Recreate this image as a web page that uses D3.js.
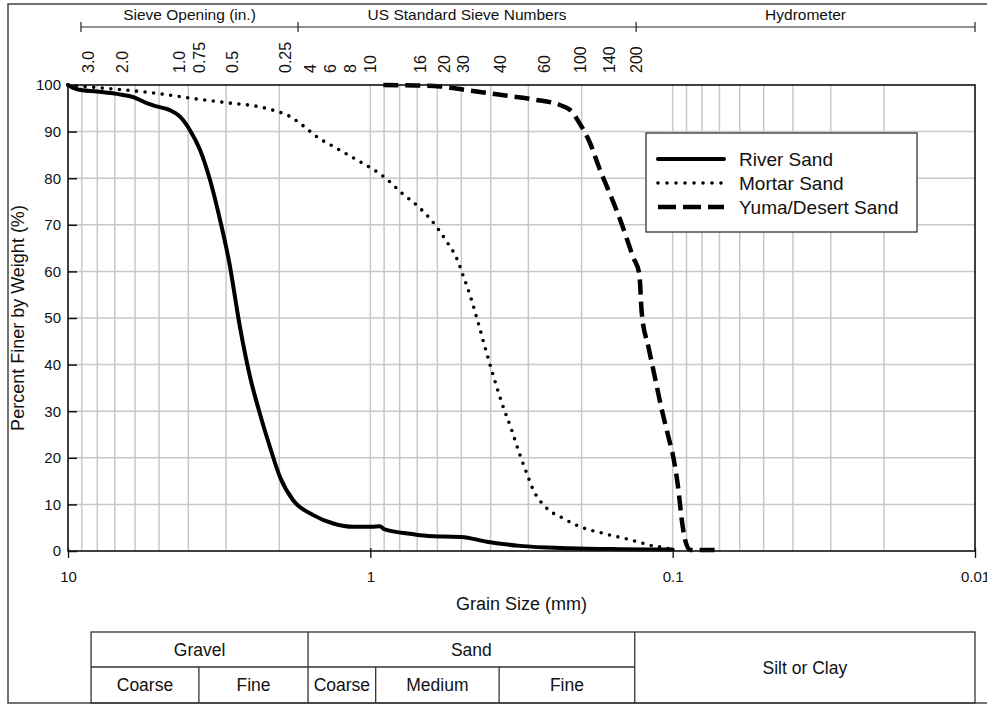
<!DOCTYPE html>
<html>
<head>
<meta charset="utf-8">
<script src="https://cdn.jsdelivr.net/npm/d3@7"></script>
<style>
  body { margin: 0; background: #fff; }
  svg text { font-family: "Liberation Sans", Arial, sans-serif; fill: #111; }
</style>
</head>
<body>
<div id="chart"></div>
<script>
// grain size (mm) / percent finer (%)
var riverSize = [10, 9.33, 8.03, 6.9, 6.08, 5.49, 5.09, 4.6, 4.26, 3.95, 3.66, 3.39, 3.14, 2.93, 2.70, 2.50, 2.32, 2.15, 1.99, 1.80, 1.545, 1.325, 1.138, 0.99, 0.93, 0.90, 0.72, 0.685, 0.57, 0.50, 0.412, 0.32, 0.218, 0.149, 0.10];
var riverPct  = [100, 99.1, 98.6, 98.1, 97.4, 96.1, 95.4, 94.6, 93.2, 90.3, 86.1, 79.6, 71.0, 62.0, 48.1, 37.4, 29.5, 22.4, 15.9, 10.9, 7.7, 5.9, 5.2, 5.2, 5.3, 4.7, 3.6, 3.4, 3.1, 3.0, 2.0, 1.1, 0.6, 0.4, 0.3];

var mortarSize = [10, 8.25, 6.4, 4.96, 3.85, 2.99, 2.32, 2.1, 1.84, 1.71, 1.6, 1.504, 1.325, 1.08, 0.953, 0.89, 0.787, 0.694, 0.611, 0.559, 0.518, 0.492, 0.466, 0.44, 0.412, 0.397, 0.367, 0.341, 0.32, 0.304, 0.289, 0.264, 0.23, 0.202, 0.17, 0.138, 0.116, 0.1046, 0.1];
var mortarPct  = [100, 99.5, 98.9, 98.1, 97.1, 96.2, 95.3, 94.6, 93.2, 91.8, 90.3, 88.9, 86.8, 83.5, 81.4, 80.0, 76.8, 73.9, 70.0, 66.4, 62.8, 58.9, 54.5, 49.0, 42.4, 38.8, 31.7, 26.0, 20.6, 16.7, 13.1, 9.5, 7.0, 5.2, 3.8, 2.4, 1.1, 0.6, 0.2];

var yumaSize = [0.906, 0.703, 0.588, 0.48, 0.372, 0.289, 0.236, 0.218, 0.2024, 0.1875, 0.174, 0.165, 0.149, 0.135, 0.129, 0.1265, 0.1203, 0.1158, 0.1086, 0.1033, 0.0994, 0.0957, 0.0933, 0.091, 0.0875, 0.0697];
var yumaPct  = [100, 99.9, 99.7, 98.9, 97.9, 96.9, 95.7, 94.6, 91.6, 87.5, 81.8, 78.2, 71.0, 63.0, 59.6, 51.0, 43.8, 38.8, 30.3, 24.5, 20.0, 13.1, 6.7, 2.4, 0.2, 0.2];

var seriesNames = ["River Sand", "Mortar Sand", "Yuma/Desert Sand"];

// top scale labels, placed at the grain size (mm) where they sit on the chart
var sieveLabels = ["3.0", "2.0", "1.0", "0.75", "0.5", "0.25", "4", "6", "8", "10", "16", "20", "30", "40", "60", "100", "140", "200"];
var sieveAt     = [8.54, 6.59, 4.29, 3.69, 2.87, 1.915, 1.577, 1.354, 1.163, 1.0, 0.685, 0.570, 0.4935, 0.370, 0.266, 0.2024, 0.1623, 0.1321];
var bandNames = ["Sieve Opening (in.)", "US Standard Sieve Numbers", "Hydrometer"];
var bandEdges = [9.06, 1.734, 0.1321, 0.01];

var xTicks = [10, 1, 0.1, 0.01];
var xTickLabels = ["10", "1", "0.1", "0.01"];
var yTicks = [0, 10, 20, 30, 40, 50, 60, 70, 80, 90, 100];

// soil classification table
var classNames = ["Gravel", "Sand", "Silt or Clay"];
var classEdges = [8.39, 1.607, 0.1335, 0.01];
var subNames = ["Coarse", "Fine", "Coarse", "Medium", "Fine"];
var subEdges = [8.39, 3.69, 1.607, 0.96, 0.375, 0.1335];

var W = 987, H = 706;
var margin = {top: 85, right: 12, bottom: 155, left: 68};
var w = W - margin.left - margin.right; // 907
var h = H - margin.top - margin.bottom; // 466

var svg = d3.select("#chart").append("svg")
    .attr("width", W)
    .attr("height", H);

// outer frame
svg.append("rect")
    .attr("x", 8).attr("y", 4)
    .attr("width", 990).attr("height", 699)
    .attr("fill", "none").attr("stroke", "#444").attr("stroke-width", 1.5);

var x = d3.scaleLog().domain([10, 0.01]).range([margin.left, margin.left + w]);
var y = d3.scaleLinear().domain([0, 100]).range([margin.top + h, margin.top]);

var g = svg.append("g");

// grid
var minor = x.ticks().filter(function(d){ return d < 9.99 && d > 0.0101; });
g.selectAll(".vgrid").data(minor).enter().append("line")
    .attr("x1", function(d){ return x(d); }).attr("x2", function(d){ return x(d); })
    .attr("y1", y(0)).attr("y2", y(100))
    .attr("stroke", "#c8c8c8").attr("stroke-width", 1.5);
g.selectAll(".hgrid").data(yTicks.slice(1, -1)).enter().append("line")
    .attr("x1", x(10)).attr("x2", x(0.01))
    .attr("y1", function(d){ return y(d); }).attr("y2", function(d){ return y(d); })
    .attr("stroke", "#c8c8c8").attr("stroke-width", 1.5);

// axes
var xAxis = d3.axisBottom(x).tickValues(xTicks)
    .tickFormat(function(d, i){ return xTickLabels[i]; })
    .tickSizeInner(7).tickSizeOuter(0).tickPadding(13);
var xa = svg.append("g")
    .attr("transform", "translate(0," + y(0) + ")")
    .call(xAxis);
xa.selectAll("text").attr("font-size", 15);
xa.selectAll("line").attr("y1", -3).attr("stroke", "#111").attr("stroke-width", 1.3);
xa.select(".domain").remove();

var yAxis = d3.axisLeft(y).tickValues(yTicks).tickSizeInner(-9).tickSizeOuter(0).tickPadding(7);
var ya = svg.append("g")
    .attr("transform", "translate(" + x(10) + ",0)")
    .call(yAxis);
ya.selectAll("text").attr("font-size", 15);
ya.selectAll("line").attr("stroke", "#111").attr("stroke-width", 1.5);
ya.select(".domain").remove();

// curves
var line = d3.line()
    .x(function(d){ return x(d.s); })
    .y(function(d){ return y(d.p); })
    .curve(d3.curveMonotoneX);

function zip(a, b){ return a.map(function(v, i){ return {s: v, p: b[i]}; }); }

var styles = [
    {dash: null, width: 4, cap: "round"},
    {dash: "0,8.6", width: 3.6, cap: "round"},
    {dash: "15,7", width: 4.5, cap: "butt"}
];
var curves = [zip(riverSize, riverPct), zip(mortarSize, mortarPct), zip(yumaSize, yumaPct)];

curves.forEach(function(data, i){
    svg.append("path")
        .attr("d", line(data))
        .attr("fill", "none")
        .attr("stroke", "#000")
        .attr("stroke-width", styles[i].width)
        .attr("stroke-linecap", styles[i].cap)
        .attr("stroke-linejoin", "round")
        .attr("stroke-dasharray", styles[i].dash);
});

// plot frame
svg.append("rect")
    .attr("x", x(10)).attr("y", y(100))
    .attr("width", x(0.01) - x(10)).attr("height", y(0) - y(100))
    .attr("fill", "none").attr("stroke", "#111").attr("stroke-width", 1.6);

// axis titles
svg.append("text")
    .attr("x", (x(10) + x(0.01)) / 2).attr("y", 610)
    .attr("text-anchor", "middle").attr("font-size", 18)
    .text("Grain Size (mm)");
svg.append("text")
    .attr("transform", "translate(24," + ((y(0) + y(100)) / 2) + ") rotate(-90)")
    .attr("text-anchor", "middle").attr("font-size", 18)
    .text("Percent Finer by Weight (%)");

// top sieve scale
svg.selectAll(".sieve").data(sieveLabels).enter().append("text")
    .attr("transform", function(d, i){ return "translate(" + x(sieveAt[i]) + ",73) rotate(-90)"; })
    .attr("dy", "0.35em")
    .attr("font-size", 16)
    .text(function(d){ return d; });

svg.append("line")
    .attr("x1", x(bandEdges[0])).attr("x2", x(bandEdges[bandEdges.length - 1]))
    .attr("y1", 27).attr("y2", 27)
    .attr("stroke", "#222").attr("stroke-width", 1.2);
svg.selectAll(".bandtick").data(bandEdges).enter().append("line")
    .attr("x1", function(d){ return x(d); }).attr("x2", function(d){ return x(d); })
    .attr("y1", 22).attr("y2", 32)
    .attr("stroke", "#222").attr("stroke-width", 1.2);
svg.selectAll(".band").data(bandNames).enter().append("text")
    .attr("x", function(d, i){ return (x(bandEdges[i]) + x(bandEdges[i + 1])) / 2; })
    .attr("y", 20)
    .attr("text-anchor", "middle").attr("font-size", 15.5)
    .text(function(d){ return d; });

// legend
var lg = svg.append("g").attr("transform", "translate(646,133)");
lg.append("rect").attr("width", 271).attr("height", 99)
    .attr("fill", "#fff").attr("stroke", "#333").attr("stroke-width", 1.3);
seriesNames.forEach(function(name, i){
    var yy = 26 + i * 24;
    lg.append("line")
        .attr("x1", 12).attr("x2", 78).attr("y1", yy).attr("y2", yy)
        .attr("stroke", "#000")
        .attr("stroke-width", styles[i].width)
        .attr("stroke-linecap", styles[i].cap)
        .attr("stroke-dasharray", i == 1 ? "0,9" : (i == 2 ? "18,7" : null));
    lg.append("text")
        .attr("x", 93).attr("y", yy).attr("dy", "0.35em")
        .attr("font-size", 19)
        .text(name);
});

// classification table
var t0 = 632, t1 = 667, t2 = 703;
var tb = svg.append("g").attr("stroke", "#333").attr("stroke-width", 1.3);
tb.append("rect")
    .attr("x", x(classEdges[0])).attr("y", t0)
    .attr("width", x(classEdges[3]) - x(classEdges[0])).attr("height", t2 - t0)
    .attr("fill", "none");
tb.append("line")
    .attr("x1", x(classEdges[0])).attr("x2", x(classEdges[2]))
    .attr("y1", t1).attr("y2", t1);
tb.selectAll(".cdiv").data(classEdges.slice(1, 3)).enter().append("line")
    .attr("x1", function(d){ return x(d); }).attr("x2", function(d){ return x(d); })
    .attr("y1", t0).attr("y2", t2);
tb.selectAll(".sdiv").data([subEdges[1], subEdges[3], subEdges[4]]).enter().append("line")
    .attr("x1", function(d){ return x(d); }).attr("x2", function(d){ return x(d); })
    .attr("y1", t1).attr("y2", t2);

svg.selectAll(".cname").data(classNames).enter().append("text")
    .attr("x", function(d, i){ return (x(classEdges[i]) + x(classEdges[i + 1])) / 2; })
    .attr("y", function(d, i){ return i == 2 ? (t0 + t2) / 2 : (t0 + t1) / 2; })
    .attr("dy", "0.35em")
    .attr("text-anchor", "middle").attr("font-size", 17.5)
    .text(function(d){ return d; });
svg.selectAll(".sname").data(subNames).enter().append("text")
    .attr("x", function(d, i){ return (x(subEdges[i]) + x(subEdges[i + 1])) / 2; })
    .attr("y", (t1 + t2) / 2)
    .attr("dy", "0.35em")
    .attr("text-anchor", "middle").attr("font-size", 17.5)
    .text(function(d){ return d; });
</script>
</body>
</html>
